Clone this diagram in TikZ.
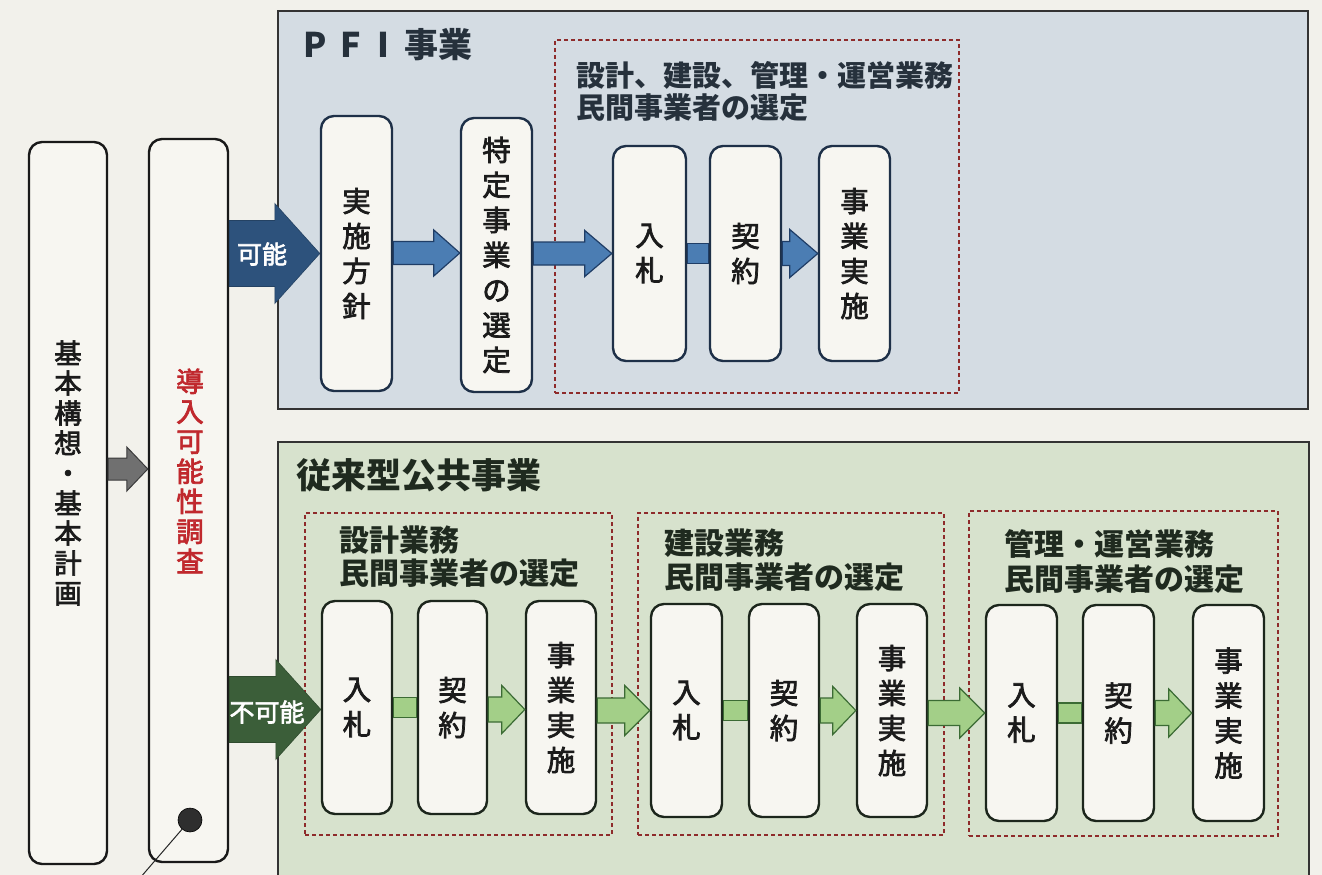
\documentclass[tikz,border=0pt]{standalone}
\usepackage{fontspec}
\newfontfamily\jp{Noto Sans CJK JP}
\newfontfamily\jpm{Noto Sans CJK JP}[FakeBold=2.5]
\usetikzlibrary{calc}
\definecolor{paper}{HTML}{F2F1EB}
\definecolor{boxfill}{HTML}{F7F6F1}
\definecolor{pfipanel}{HTML}{D4DCE3}
\definecolor{grnpanel}{HTML}{D7E2CD}
\definecolor{pfiline}{HTML}{1E3048}
\definecolor{grnline}{HTML}{1C261C}
\definecolor{dashred}{HTML}{8E2B2B}
\definecolor{bluefill}{HTML}{4B7DB3}
\definecolor{blueedge}{HTML}{1F3D66}
\definecolor{bigblue}{HTML}{2D527C}
\definecolor{grnfill}{HTML}{A3CF88}
\definecolor{grnedge}{HTML}{3B6B34}
\definecolor{biggrn}{HTML}{3B5E39}
\definecolor{grayfill}{HTML}{707070}
\definecolor{grayedge}{HTML}{3A3A3A}
\definecolor{redtxt}{HTML}{C0282D}
\definecolor{titletxt}{HTML}{26313C}
\definecolor{gtitletxt}{HTML}{1F2A1F}
\definecolor{boxtxt}{HTML}{1B1B1B}
\tikzset{
  rbox/.style={draw, line width=2.4pt, rounded corners=13pt, fill=boxfill, inner sep=0pt, text=boxtxt, align=center},
  leftbox/.style={rbox, draw=black!90},
  pbox/.style={rbox, draw=pfiline, font=\jpm\fontsize{28.5pt}{35pt}\selectfont},
  gbox/.style={rbox, draw=grnline, font=\jpm\fontsize{28.5pt}{35pt}\selectfont},
  vtxt/.style={align=center, inner sep=0pt, font=\jpm\fontsize{27.5pt}{30pt}\selectfont},
  panelbox/.style={draw=black!80, line width=1.6pt, inner sep=0pt},
  dbox/.style={draw=dashred, line width=1.3pt, dash pattern=on 4pt off 3pt, inner sep=0pt},
  grplabel/.style={anchor=base west, inner sep=0pt, font=\jp\bfseries\fontsize{30pt}{34pt}\selectfont},
  bluearr/.style={fill=bluefill, draw=blueedge, line width=1.2pt, line join=miter},
  grnarr/.style={fill=grnfill, draw=grnedge, line width=1.2pt, line join=miter},
  grayarr/.style={fill=grayfill, draw=grayedge, line width=1pt, line join=miter},
  bigbluearr/.style={fill=bigblue, draw=bigblue!80!black, line width=0.6pt},
  biggrnarr/.style={fill=biggrn, draw=biggrn!80!black, line width=0.6pt},
  arrlabel/.style={text=white, inner sep=0pt, font=\jpm\fontsize{25pt}{25pt}\selectfont}
}
% block arrow: #1 style, #2 from node, #3 to node, #4 half shaft, #5 half head, #6 head length, #7 yshift at target
\newcommand\blockarrow[7]{%
  \coordinate (ba-t) at ([yshift=#7]#3.west);
  \coordinate (ba-s) at (#2.east |- ba-t);
  \draw[#1] ([yshift=#4]ba-s) -- ([xshift=-#6,yshift=#4]ba-t) -- ([xshift=-#6,yshift=#5]ba-t) -- (ba-t)
    -- ([xshift=-#6,yshift=-#5]ba-t) -- ([xshift=-#6,yshift=-#4]ba-t) -- ([yshift=-#4]ba-s) -- cycle;
}
% plain bar connector: #1 style, #2 from, #3 to, #4 half height
\newcommand\blockbar[4]{%
  \coordinate (bb-t) at (#3.west);
  \coordinate (bb-s) at (#2.east |- bb-t);
  \draw[#1] ([yshift=#4]bb-s) rectangle ([yshift=-#4]bb-t);
}
\begin{document}
\begin{tikzpicture}[x=1pt,y=-1pt]
\useasboundingbox (0,0) rectangle (1322,875);
\clip (0,0) rectangle (1322,875);
\fill[paper] (0,0) rectangle (1322,875);

% panels
\node[panelbox, fill=pfipanel, minimum width=1030pt, minimum height=398pt] (pfi) at (793,210) {};
\node[panelbox, fill=grnpanel, minimum width=1031pt, minimum height=458pt] (trad) at (793.5,671) {};

% panel titles
\node[anchor=base west, inner sep=0pt, text=titletxt, font=\jp\bfseries\fontsize{34pt}{34pt}\selectfont] (pfititle) at (303,58) {P\hspace{14pt}F\hspace{16pt}I\hspace{16pt}事業};
\node[anchor=base west, inner sep=0pt, text=gtitletxt, font=\jp\bfseries\fontsize{35pt}{35pt}\selectfont] (tradtitle) at (296,488) {従来型公共事業};

% dashed groups
\node[dbox, minimum width=404pt, minimum height=353pt] (pg) at (757,216.5) {};
\node[dbox, minimum width=307pt, minimum height=322pt] (g1) at (458.5,674) {};
\node[dbox, minimum width=306pt, minimum height=322pt] (g2) at (791,674) {};
\node[dbox, minimum width=309pt, minimum height=325pt] (g3) at (1123.5,673.5) {};

% group labels
\node[grplabel, text=titletxt, font=\jp\bfseries\fontsize{29pt}{34pt}\selectfont] (pl1) at (576,86) {設計、建設、管理・運営業務};
\node[grplabel, text=titletxt, font=\jp\bfseries\fontsize{29pt}{34pt}\selectfont] (pl2) at (576,118) {民間事業者の選定};
\node[grplabel, text=gtitletxt] (g1l1) at (339,551) {設計業務};
\node[grplabel, text=gtitletxt] (g1l2) at (339,584) {民間事業者の選定};
\node[grplabel, text=gtitletxt] (g2l1) at (664,554) {建設業務};
\node[grplabel, text=gtitletxt] (g2l2) at (664,588) {民間事業者の選定};
\node[grplabel, text=gtitletxt] (g3l1) at (1004,555) {管理・運営業務};
\node[grplabel, text=gtitletxt] (g3l2) at (1004,590) {民間事業者の選定};

% left boxes
\node[leftbox, minimum width=78pt, minimum height=722pt] (A) at (68,503) {};
\node[vtxt, text=boxtxt] (Atxt) at (68,473) {基\\本\\構\\想\\・\\基\\本\\計\\画};
\node[leftbox, minimum width=79pt, minimum height=723pt] (B) at (188.5,500.5) {};
\node[vtxt, text=redtxt] (Btxt) at (190,471) {導\\入\\可\\能\\性\\調\\査};

% PFI boxes
\node[pbox, minimum width=71pt, minimum height=275pt] (P1) at (356.5,253.5) {実\\施\\方\\針};
\node[pbox, minimum width=71pt, minimum height=274pt] (P2) at (496.5,255) {特\\定\\事\\業\\の\\選\\定};
\node[pbox, minimum width=73pt, minimum height=215pt] (P3) at (649.5,253.5) {入\\札};
\node[pbox, minimum width=71pt, minimum height=215pt] (P4) at (745.5,253.5) {契\\約};
\node[pbox, minimum width=71pt, minimum height=215pt] (P5) at (854.5,253.5) {事\\業\\実\\施};

% traditional boxes
\node[gbox, minimum width=70pt, minimum height=213pt] (G1a) at (357,707.5) {入\\札};
\node[gbox, minimum width=69pt, minimum height=213pt] (G1b) at (452.5,707.5) {契\\約};
\node[gbox, minimum width=70pt, minimum height=213pt] (G1c) at (561,707.5) {事\\業\\実\\施};
\node[gbox, minimum width=71pt, minimum height=213pt] (G2a) at (686.5,710.5) {入\\札};
\node[gbox, minimum width=70pt, minimum height=213pt] (G2b) at (784,710.5) {契\\約};
\node[gbox, minimum width=70pt, minimum height=213pt] (G2c) at (892,710.5) {事\\業\\実\\施};
\node[gbox, minimum width=71pt, minimum height=216pt] (G3a) at (1021.5,713) {入\\札};
\node[gbox, minimum width=71pt, minimum height=216pt] (G3b) at (1118.5,713) {契\\約};
\node[gbox, minimum width=71pt, minimum height=216pt] (G3c) at (1228.5,713) {事\\業\\実\\施};

% gray arrow A -> B
\blockarrow{grayarr}{A}{B}{11pt}{22pt}{21pt}{31.5pt}

% big arrows from B
\blockarrow{bigbluearr}{B}{P1}{33pt}{50pt}{45pt}{0pt}
\node[arrlabel] (lblok) at (262,254) {可能};
\blockarrow{biggrnarr}{B}{G1a}{33pt}{50pt}{45pt}{-2pt}
\node[arrlabel] (lblng) at (267,712) {不可能};

% PFI arrows
\blockarrow{bluearr}{P1}{P2}{11.5pt}{23pt}{26pt}{2pt}
\blockarrow{bluearr}{P2}{P3}{11.5pt}{23pt}{27pt}{0pt}
\blockbar{bluearr}{P3}{P4}{10pt}
\blockarrow{bluearr}{P4}{P5}{12pt}{24pt}{28pt}{0pt}

% traditional arrows
\blockbar{grnarr}{G1a}{G1b}{10pt}
\blockarrow{grnarr}{G1b}{G1c}{12.5pt}{24pt}{23pt}{-2pt}
\blockarrow{grnarr}{G1c}{G2a}{12.5pt}{25pt}{25pt}{0pt}
\blockbar{grnarr}{G2a}{G2b}{10pt}
\blockarrow{grnarr}{G2b}{G2c}{12.5pt}{24pt}{23pt}{0pt}
\blockarrow{grnarr}{G2c}{G3a}{12.5pt}{25pt}{25pt}{0pt}
\blockbar{grnarr}{G3a}{G3b}{10pt}
\blockarrow{grnarr}{G3b}{G3c}{12.5pt}{24pt}{23pt}{0pt}

% dot with leader line
\node[circle, fill=black!82, draw=black, line width=0.6pt, minimum size=24pt, inner sep=0pt] (dot) at (190,820) {};
\coordinate (leadend) at (140,878);
\draw[line width=1pt, black!85] (dot) -- (leadend);
\end{tikzpicture}
\end{document}
